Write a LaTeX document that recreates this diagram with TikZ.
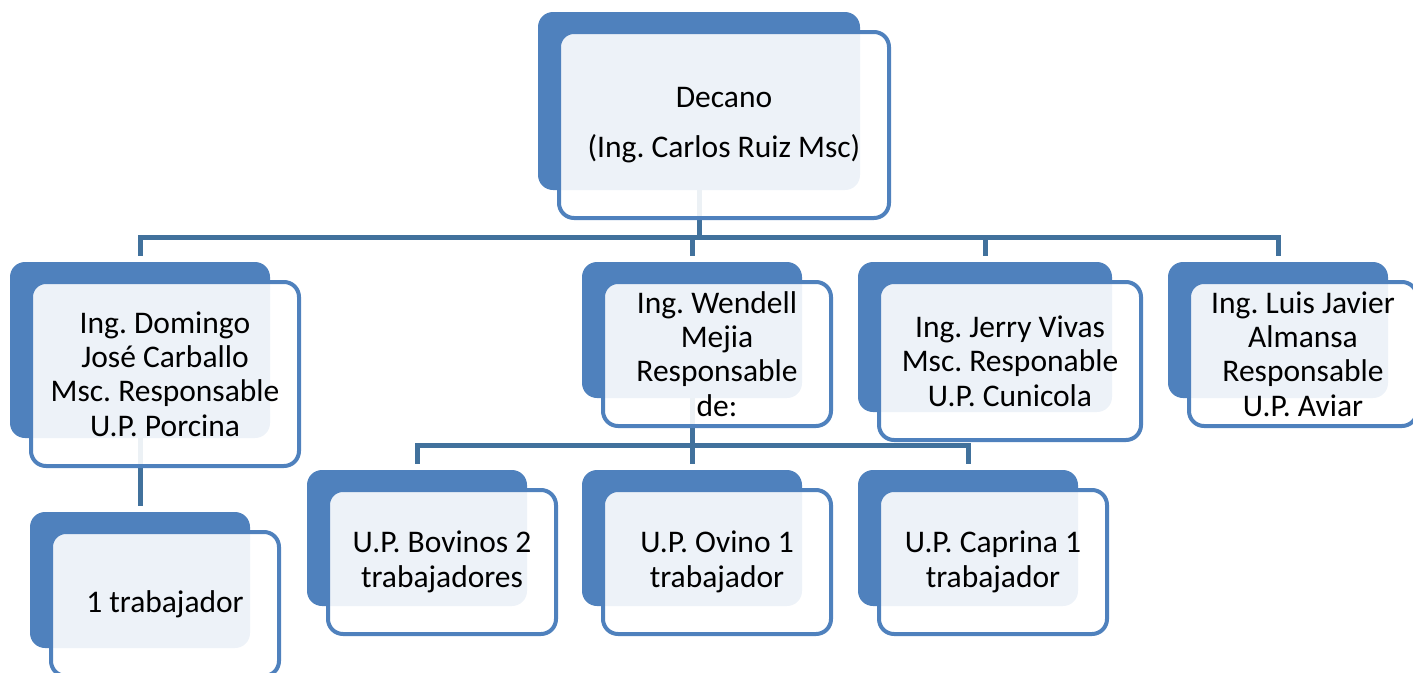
\documentclass[tikz,border=0pt]{standalone}
\usepackage{fontspec}
\setmainfont{Carlito}
\frenchspacing
\usetikzlibrary{positioning}
\definecolor{unitblue}{HTML}{4F81BD}
\definecolor{linkblue}{HTML}{41719C}
\pgfdeclarelayer{lines}
\pgfsetlayers{lines,main}
\begin{document}
\begin{tikzpicture}[x=1pt, y=-1pt,
    panel/.style 2 args={fill=unitblue, rounded corners=15pt, minimum width=#1, minimum height=#2, outer sep=0pt, inner sep=0pt},
    card/.style 2 args={draw=unitblue, line width=4pt, fill=white, fill opacity=0.9, text opacity=1, rounded corners=15pt,
      minimum width=#1+8pt, minimum height=#2+8pt, outer sep=0pt, inner sep=0pt, align=center,
      font=\fontsize{31.5}{34.3}\selectfont},
    link/.style={draw=linkblue, line width=5pt, shorten >=6pt}]
  \useasboundingbox (0,0) rectangle (1413,672);

  % dean
  \node[panel={322pt}{178pt}] (decano-b) at (699,101) {};
  \node[card={322pt}{178pt}, below right=20pt and 21pt of decano-b.north west] (decano) {Decano\\[16pt](Ing. Carlos Ruiz Msc)};

  % heads of the units
  \node[panel={260pt}{176pt}] (domingo-b) at (140,350) {};
  \node[card={260pt}{176pt}, below right=20pt and 21pt of domingo-b.north west] (domingo) {Ing. Domingo\\José Carballo\\Msc. Responsable\\U.P. Porcina};
  \node[panel={220pt}{136pt}] (wendell-b) at (692,330) {};
  \node[card={220pt}{136pt}, below right=20pt and 21pt of wendell-b.north west] (wendell) {Ing. Wendell\\Mejia\\Responsable\\de:};
  \node[panel={254pt}{150pt}] (jerry-b) at (985,337) {};
  \node[card={254pt}{150pt}, below right=20pt and 21pt of jerry-b.north west] (jerry) {Ing. Jerry Vivas\\Msc. Responable\\U.P. Cunicola};
  \node[panel={220pt}{136pt}] (luis-b) at (1278,330) {};
  \node[card={220pt}{136pt}, below right=20pt and 21pt of luis-b.north west] (luis) {Ing. Luis Javier\\Almansa\\Responsable\\U.P. Aviar};

  % workers
  \node[panel={220pt}{136pt}] (trab-b) at (140,580) {};
  \node[card={220pt}{136pt}, below right=20pt and 21pt of trab-b.north west] (trab) {1 trabajador};
  \node[panel={220pt}{136pt}] (bovinos-b) at (417,538) {};
  \node[card={220pt}{136pt}, below right=20pt and 21pt of bovinos-b.north west] (bovinos) {U.P. Bovinos 2\\trabajadores};
  \node[panel={220pt}{136pt}] (ovino-b) at (692,538) {};
  \node[card={220pt}{136pt}, below right=20pt and 21pt of ovino-b.north west] (ovino) {U.P. Ovino 1\\trabajador};
  \node[panel={220pt}{136pt}] (caprina-b) at (968,538) {};
  \node[card={220pt}{136pt}, below right=20pt and 21pt of caprina-b.north west] (caprina) {U.P. Caprina 1\\trabajador};

  \begin{pgfonlayer}{lines}
    \foreach \n in {domingo,wendell,jerry,luis}
      \draw[link] (decano-b.south) -- ++(0,47) -| (\n-b.north);
    \foreach \n in {bovinos,ovino,caprina}
      \draw[link] (wendell-b.south) -- ++(0,47) -| (\n-b.north);
    \draw[link] (domingo-b.south) -- (trab-b.north);
  \end{pgfonlayer}
\end{tikzpicture}
\end{document}
